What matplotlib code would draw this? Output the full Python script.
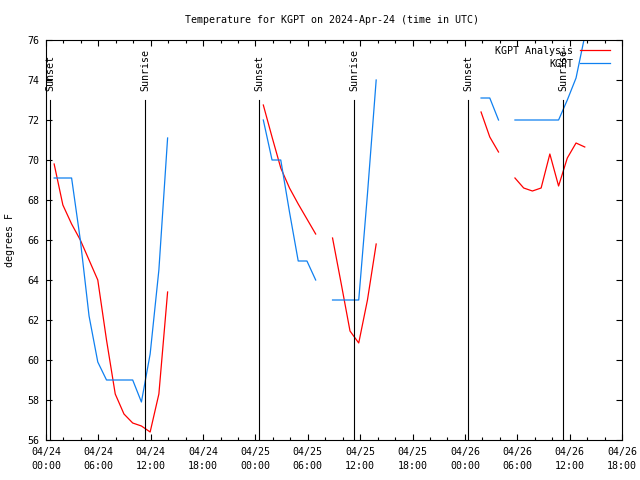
import pandas as pd
import numpy as np
import matplotlib
matplotlib.use('Agg')
import matplotlib.pyplot as plt
import matplotlib.dates as mdates

plt.rcParams['font.family'] = ['DejaVu Sans Mono']
plt.rcParams['font.size'] = 7.2

#----------------------------------------------------
# Dati (ore di osservazione, gradi F)
#----------------------------------------------------
# inizio di ogni tratto continuo, poi un valore ogni ora
seg_start = ['2024-04-24 00:56', '2024-04-25 00:54', '2024-04-25 08:50',
             '2024-04-26 01:51', '2024-04-26 05:44']

analysis_1 = [69.8, 67.75, 66.8, 66.0, 65.0, 64.0, 61.0, 58.3, 57.3, 56.85, 56.7, 56.4, 58.3, 63.4]
analysis_2 = [72.75, 71.15, 69.6, 68.6, 67.8, 67.05, 66.3]
analysis_3 = [66.1, 63.8, 61.45, 60.85, 63.0, 65.8]
analysis_4 = [72.4, 71.15, 70.4]
analysis_5 = [69.1, 68.6, 68.45, 68.6, 70.3, 68.7, 70.1, 70.85, 70.65]

obs_1 = [69.1, 69.1, 69.1, 66.0, 62.2, 59.9, 59.0, 59.0, 59.0, 59.0, 57.9, 60.3, 64.5, 71.1]
obs_2 = [72.0, 70.0, 70.0, 67.4, 64.95, 64.95, 64.0]
obs_3 = [63.0, 63.0, 63.0, 63.0, 68.3, 74.0]
obs_4 = [73.1, 73.1, 72.0]
obs_5 = [72.0, 72.0, 72.0, 72.0, 72.0, 72.0, 73.0, 74.1, 76.2]

analysis_segs = [analysis_1, analysis_2, analysis_3, analysis_4, analysis_5]
obs_segs = [obs_1, obs_2, obs_3, obs_4, obs_5]

sun_times = ['2024-04-24 00:28', '2024-04-24 11:23', '2024-04-25 00:26',
             '2024-04-25 11:20', '2024-04-26 00:24', '2024-04-26 11:17']
sun_labels = ['Sunset', 'Sunrise', 'Sunset', 'Sunrise', 'Sunset', 'Sunrise']

x_start = '2024-04-24 00:00'
x_end = '2024-04-26 18:00'

#----------------------------------------------------
# Grafico
#----------------------------------------------------
fig = plt.figure(figsize=(6.4, 4.8), dpi=100)
ax = fig.add_axes([46/640, 40/480, 576/640, 400/480])

red = '#ff0000'
blue = '#0f80f0'

for i in range(len(seg_start)):
    t = pd.date_range(seg_start[i], periods=len(analysis_segs[i]), freq='h')
    ax.plot(t, analysis_segs[i], color=red, lw=0.9,
            label='KGPT Analysis' if i == 0 else None)
    t = pd.date_range(seg_start[i], periods=len(obs_segs[i]), freq='h')
    ax.plot(t, obs_segs[i], color=blue, lw=0.9,
            label='KGPT' if i == 0 else None)

for st, lab in zip(sun_times, sun_labels):
    ts = pd.Timestamp(st)
    ax.plot([ts, ts], [56, 73], color='black', lw=0.8)
    ax.text(ts, 73.45, lab, rotation=90, ha='center', va='bottom', fontsize=7.2)

ax.set_xlim(pd.Timestamp(x_start), pd.Timestamp(x_end))
ax.set_ylim(56, 76)
ax.set_yticks(np.arange(56, 77, 2))

ticks = pd.date_range(x_start, x_end, freq='6h')
ax.set_xticks(ticks)
ax.set_xticklabels([t.strftime('%m/%d\n%H:%M') for t in ticks], linespacing=1.5)
ax.xaxis.set_minor_locator(mdates.HourLocator(byhour=range(0, 24, 2)))

ax.tick_params(which='both', direction='in', top=True, right=True, width=0.8)
ax.tick_params(which='major', length=4, pad=5)
ax.tick_params(which='minor', length=2)
for s in ax.spines.values():
    s.set_linewidth(0.8)

leg = ax.legend(loc='upper right', bbox_to_anchor=(0.979, 0.985), frameon=False,
                markerfirst=False, handlelength=3.0, handletextpad=0.7,
                labelspacing=0.3, borderaxespad=0, borderpad=0)

fig.text(10/640, 240/480, 'degrees F', rotation=90, ha='center', va='center',
         fontsize=7.2)
fig.text(332/640, 1 - 20/480, 'Temperature for KGPT on 2024-Apr-24 (time in UTC)',
         ha='center', va='center', fontsize=7.2)

plt.savefig('out.png', dpi=100)
